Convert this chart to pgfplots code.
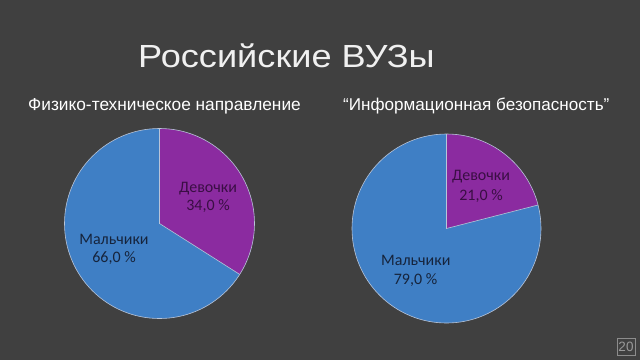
\documentclass[border=0pt]{standalone}
\usepackage{pgfplots}
\pgfplotsset{compat=1.18}
\usepackage{pgfplotstable}
\usepackage{fontspec}
\setmainfont{Liberation Sans}
\newfontfamily\calibri{Carlito}
\newfontfamily\titlefont[FakeStretch=1.13]{Liberation Sans}
\definecolor{bg}{HTML}{404040}
\definecolor{boys}{HTML}{3F7FC5}
\definecolor{girls}{HTML}{8B2BA0}
\definecolor{boystext}{HTML}{16243C}
\definecolor{girlstext}{HTML}{3A0E44}
\definecolor{edge}{HTML}{B8C4D8}

\pgfplotstableread{
value
34
66
}\physdata
\pgfplotstableread{
value
21
79
}\infodata

\begin{document}
\begin{tikzpicture}
\fill[bg] (0,0) rectangle (640pt,360pt);
\pgfplotstablegetelem{0}{value}\of\physdata \let\gA\pgfplotsretval
\pgfplotstablegetelem{0}{value}\of\infodata \let\gB\pgfplotsretval
\pgfmathsetmacro\angA{90-3.6*\gA}
\pgfmathsetmacro\angB{90-3.6*\gB}
\begin{axis}[at={(0,0)},anchor=south west,width=640pt,height=360pt,scale only axis,
  xmin=0,xmax=640,ymin=0,ymax=360,y dir=reverse,hide axis,clip=false]
% left pie
\fill[girls] (axis cs:159.5,223.5) -- ++(90:95pt) arc[start angle=90,end angle=\angA,radius=95pt] -- cycle;
\fill[boys] (axis cs:159.5,223.5) -- ++(\angA:95pt) arc[start angle=\angA,end angle=-270,radius=95pt] -- cycle;
\draw[edge,line width=0.6pt] (axis cs:159.5,223.5) circle[radius=95pt];
\draw[edge,line width=0.6pt] (axis cs:159.5,223.5) -- ++(90:95pt);
\draw[edge,line width=0.6pt] (axis cs:159.5,223.5) -- ++(\angA:95pt);
% right pie
\fill[girls] (axis cs:446.5,228.5) -- ++(90:94.5pt) arc[start angle=90,end angle=\angB,radius=94.5pt] -- cycle;
\fill[boys] (axis cs:446.5,228.5) -- ++(\angB:94.5pt) arc[start angle=\angB,end angle=-270,radius=94.5pt] -- cycle;
\draw[edge,line width=0.6pt] (axis cs:446.5,228.5) circle[radius=94.5pt];
\draw[edge,line width=0.6pt] (axis cs:446.5,228.5) -- ++(90:94.5pt);
\draw[edge,line width=0.6pt] (axis cs:446.5,228.5) -- ++(\angB:94.5pt);
% titles
\node[anchor=base west,inner sep=0,font=\titlefont\fontsize{32}{36}\selectfont,text=white!94!black] at (axis cs:138,67.5) {Российские ВУЗы};
\node[anchor=base west,inner sep=0,font=\fontsize{17.3}{20}\selectfont,text=white] at (axis cs:28,110) {Физико-техническое направление};
\node[anchor=base west,inner sep=0,font=\fontsize{17.1}{20}\selectfont,text=white] at (axis cs:343,110) {“Информационная безопасность”};
% pie labels
\node[anchor=base,inner sep=0,font=\calibri\fontsize{16}{19}\selectfont,text=girlstext] at (axis cs:208,192.7) {Девочки};
\node[anchor=base,inner sep=0,font=\calibri\fontsize{16}{19}\selectfont,text=girlstext] at (axis cs:208,210.7) {34,0 \%};
\node[anchor=base,inner sep=0,font=\calibri\fontsize{16}{19}\selectfont,text=boystext] at (axis cs:114,244) {Мальчики};
\node[anchor=base,inner sep=0,font=\calibri\fontsize{16}{19}\selectfont,text=boystext] at (axis cs:114,262.7) {66,0 \%};
\node[anchor=base,inner sep=0,font=\calibri\fontsize{16}{19}\selectfont,text=girlstext] at (axis cs:481,180.7) {Девочки};
\node[anchor=base,inner sep=0,font=\calibri\fontsize{16}{19}\selectfont,text=girlstext] at (axis cs:481,200) {21,0 \%};
\node[anchor=base,inner sep=0,font=\calibri\fontsize{16}{19}\selectfont,text=boystext] at (axis cs:415.8,265) {Мальчики};
\node[anchor=base,inner sep=0,font=\calibri\fontsize{16}{19}\selectfont,text=boystext] at (axis cs:415.5,284.3) {79,0 \%};
% slide number
\node[draw=white!55!black,line width=0.6pt,text=white!60!black,minimum width=18pt,minimum height=17pt,inner sep=0pt,font=\fontsize{13.5}{14}\selectfont] at (axis cs:626,346.5) {20};
\end{axis}
\end{tikzpicture}
\end{document}
